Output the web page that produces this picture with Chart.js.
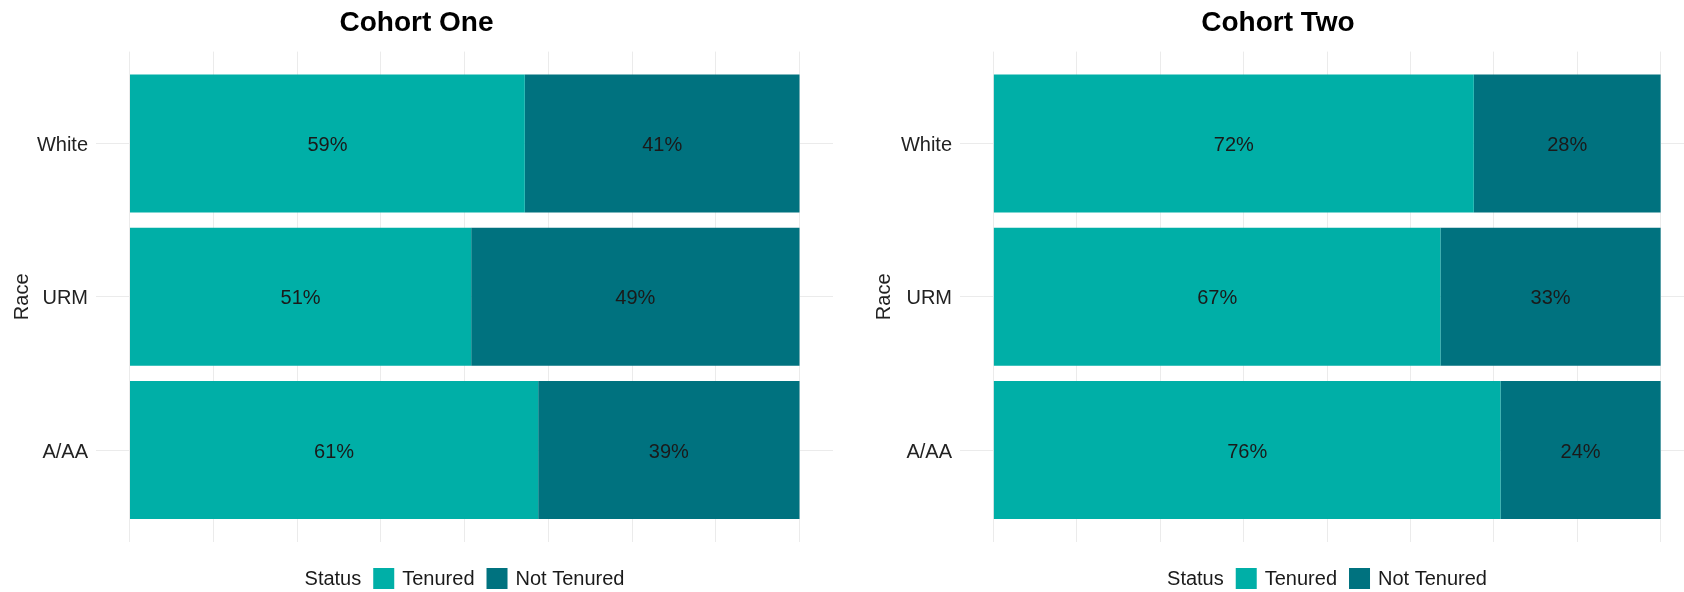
<!DOCTYPE html>
<html>
<head>
<meta charset="UTF-8">
<title>Tenure status by race</title>
<script src="https://cdn.jsdelivr.net/npm/chart.js"></script>
<style>
    html, body { margin: 0; padding: 0; background: #ffffff; overflow: hidden; }
    #wrap { position: relative; width: 1684px; height: 592px; overflow: hidden; }
    .box { position: absolute; top: 0; width: 842px; height: 592px; }
    #boxOne { left: 0; }
    #boxTwo { left: 862px; }
</style>
</head>
<body>
<div id="wrap">
    <div class="box" id="boxOne"><canvas id="chartOne"></canvas></div>
    <div class="box" id="boxTwo"><canvas id="chartTwo"></canvas></div>
</div>
<script>
// data, bottom to top
const races = ['A/AA', 'URM', 'White'];
const statuses = ['Tenured', 'Not Tenured'];
const cohortOneTenured = [61, 51, 59];
const cohortOneNotTenured = [39, 49, 41];
const cohortTwoTenured = [76, 67, 72];
const cohortTwoNotTenured = [24, 33, 28];
const gridTicks = [0, 12.5, 25, 37.5, 50, 62.5, 75, 87.5, 100];

const colors = ['#00AFA7', '#00727F'];
const fontFamily = '"Liberation Sans", Arial, sans-serif';
Chart.defaults.font.family = fontFamily;

// percent text in the middle of each bar piece
const barLabels = {
    id: 'barLabels',
    afterDatasetsDraw(chart) {
        const ctx = chart.ctx;
        ctx.save();
        ctx.font = '20px ' + fontFamily;
        ctx.fillStyle = '#1a1a1a';
        ctx.textAlign = 'center';
        ctx.textBaseline = 'middle';
        chart.data.datasets.forEach(function(ds, i) {
            chart.getDatasetMeta(i).data.forEach(function(bar, j) {
                ctx.fillText(ds.data[j].x + '%', (bar.x + bar.base) / 2, bar.y + 2);
            });
        });
        ctx.restore();
    }
};

// "Status [] Tenured [] Not Tenured" under the panel
const statusLegend = {
    id: 'statusLegend',
    afterDraw(chart) {
        const ctx = chart.ctx;
        const area = chart.chartArea;
        const box = 21, gap = 12, boxGap = 8;
        ctx.save();
        ctx.font = '20px ' + fontFamily;
        const titleW = ctx.measureText('Status').width;
        const items = chart.data.datasets.map(function(d) {
            return { label: d.label, color: d.backgroundColor, w: ctx.measureText(d.label).width };
        });
        let total = titleW;
        items.forEach(function(it) { total += gap + box + boxGap + it.w; });
        let x = (area.left + area.right) / 2 - total / 2;
        const y = 579;
        ctx.fillStyle = '#1a1a1a';
        ctx.textBaseline = 'middle';
        ctx.textAlign = 'left';
        ctx.fillText('Status', x, y);
        x += titleW;
        items.forEach(function(it) {
            x += gap;
            ctx.fillStyle = it.color;
            ctx.fillRect(x, y - 11, box, box);
            x += box + boxGap;
            ctx.fillStyle = '#1a1a1a';
            ctx.fillText(it.label, x, y);
            x += it.w;
        });
        ctx.restore();
    }
};

function makeChart(id, title, tenured, notTenured, axisWidth, rightPad) {
    const series = [tenured, notTenured];
    const datasets = statuses.map(function(s, k) {
        return {
            label: s,
            data: races.map(function(r, i) { return { x: series[k][i], y: i + 1 }; }),
            backgroundColor: colors[k],
            borderWidth: 0,
            categoryPercentage: 0.9,
            barPercentage: 1
        };
    });
    return new Chart(document.getElementById(id), {
        type: 'bar',
        data: { datasets: datasets },
        options: {
            indexAxis: 'y',
            responsive: true,
            maintainAspectRatio: false,
            animation: false,
            layout: { padding: { left: 0, right: rightPad, top: 0, bottom: 50 } },
            scales: {
                x: {
                    type: 'linear',
                    stacked: true,
                    min: -5,
                    max: 105,
                    afterBuildTicks: function(s) { s.ticks = gridTicks.map(function(v) { return { value: v }; }); },
                    afterFit: function(s) { s.height = 0; },
                    ticks: { display: false },
                    grid: { color: '#ebebeb', lineWidth: 1, drawTicks: false },
                    border: { display: false }
                },
                y: {
                    type: 'linear',
                    stacked: true,
                    offset: false,
                    min: 0.4,
                    max: 3.6,
                    afterBuildTicks: function(s) { s.ticks = races.map(function(r, i) { return { value: i + 1 }; }); },
                    afterFit: function(s) { s.width = axisWidth; },
                    ticks: {
                        callback: function(v) { return races[v - 1]; },
                        font: { size: 20 },
                        color: '#222222',
                        padding: 8,
                        labelOffset: 2
                    },
                    grid: { color: '#ebebeb', lineWidth: 1, drawTicks: false, offset: false },
                    border: { display: false },
                    title: {
                        display: true,
                        text: 'Race',
                        font: { size: 20 },
                        color: '#222222',
                        padding: { top: 10, bottom: 0 }
                    }
                }
            },
            plugins: {
                legend: { display: false },
                tooltip: { enabled: false },
                title: {
                    display: true,
                    text: title,
                    color: '#000000',
                    font: { size: 28, weight: 'bold' },
                    padding: { top: 6, bottom: 12 }
                }
            }
        },
        plugins: [barLabels, statusLegend]
    });
}

makeChart('chartOne', 'Cohort One', cohortOneTenured, cohortOneNotTenured, 96, 9);
makeChart('chartTwo', 'Cohort Two', cohortTwoTenured, cohortTwoNotTenured, 98, 10);
</script>
</body>
</html>
